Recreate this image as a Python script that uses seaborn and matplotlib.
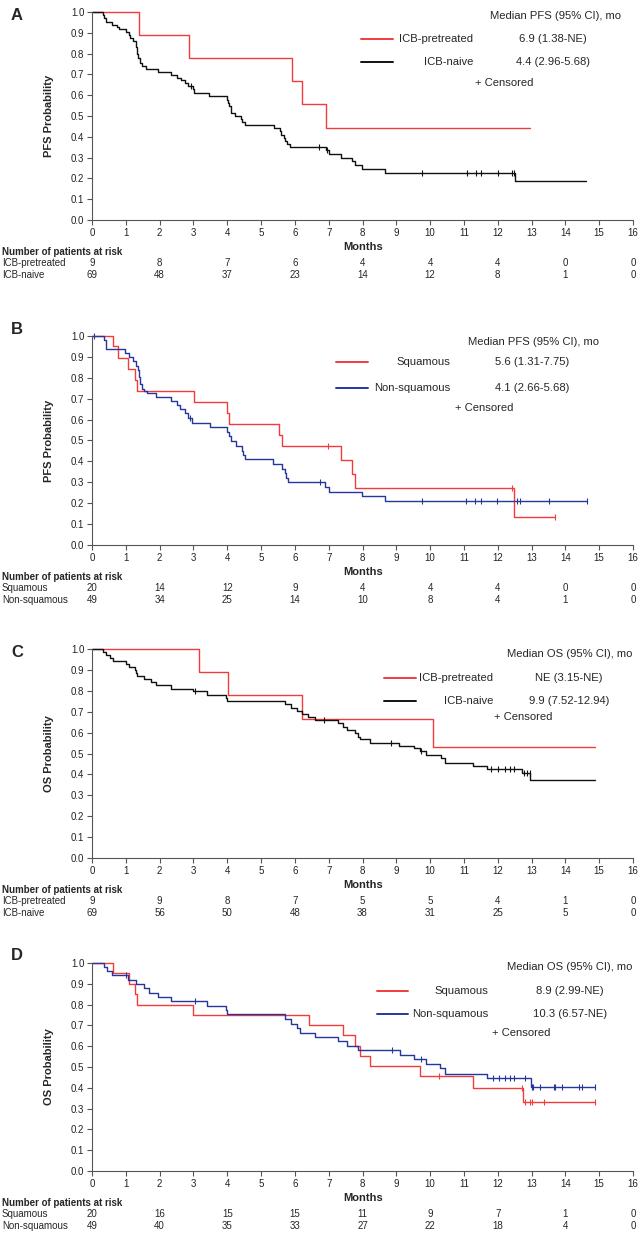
import matplotlib.pyplot as plt
import seaborn as sns
import numpy as np
import pandas as pd
from matplotlib.lines import Line2D

sns.set_style('ticks')
plt.rcParams['font.family'] = ['Liberation Sans', 'DejaVu Sans']

RED = '#f23c3c'
BLACK = '#111111'
BLUE = '#26379a'

# ---- data (months, survival after each step) ----
# A: PFS by prior ICB
a_pre_t = [0, 1.38, 2.87, 5.92, 6.22, 6.91]
a_pre_s = [1.0, 0.889, 0.778, 0.667, 0.556, 0.444]
a_pre_end = 12.94
a_pre_cens = []

a_nai_t = [0, 0.33, 0.36, 0.40, 0.60, 0.75, 0.80, 1.00, 1.08, 1.12, 1.22, 1.30, 1.32, 1.36,
           1.42, 1.48, 1.60, 1.95, 2.35, 2.50, 2.62, 2.75, 2.85, 2.98, 3.03, 3.45, 4.00, 4.03,
           4.06, 4.10, 4.12, 4.22, 4.40, 4.45, 4.52, 5.38, 5.55, 5.60, 5.68, 5.72, 5.78, 5.85,
           6.92, 7.02, 7.36, 7.68, 7.78, 7.98, 8.67, 12.51]
a_nai_s = [1.0, 0.986, 0.971, 0.952, 0.938, 0.928, 0.920, 0.905, 0.890, 0.875, 0.860, 0.830,
           0.800, 0.780, 0.755, 0.742, 0.728, 0.713, 0.699, 0.685, 0.671, 0.657, 0.643, 0.628,
           0.609, 0.594, 0.578, 0.562, 0.546, 0.530, 0.515, 0.500, 0.485, 0.470, 0.456, 0.441,
           0.426, 0.411, 0.396, 0.381, 0.366, 0.351, 0.336, 0.318, 0.298, 0.282, 0.265, 0.245,
           0.226, 0.189]
a_nai_end = 14.62
a_nai_cens = [2.92, 6.70, 6.96, 9.75, 11.08, 11.35, 11.51, 12.00, 12.43, 12.47]

# B: PFS by histology
b_sq_t = [0, 0.62, 0.77, 1.05, 1.28, 1.32, 3.01, 3.98, 4.05, 5.54, 5.62, 7.36, 7.68, 7.78, 12.49]
b_sq_s = [1.0, 0.95, 0.895, 0.842, 0.789, 0.737, 0.684, 0.632, 0.579, 0.526, 0.474, 0.407,
          0.339, 0.271, 0.135]
b_sq_end = 13.70
b_sq_cens = [6.99, 12.42, 13.70]

b_ns_t = [0, 0.35, 0.40, 0.97, 1.10, 1.20, 1.30, 1.35, 1.40, 1.43, 1.47, 1.55, 1.62, 1.90,
          2.35, 2.50, 2.60, 2.75, 2.85, 2.95, 3.48, 4.00, 4.05, 4.10, 4.25, 4.45, 4.47, 4.52,
          5.35, 5.62, 5.70, 5.75, 5.80, 6.89, 7.02, 7.98, 8.67]
b_ns_s = [1.0, 0.980, 0.937, 0.918, 0.898, 0.878, 0.857, 0.837, 0.805, 0.770, 0.748, 0.735,
          0.728, 0.710, 0.690, 0.670, 0.650, 0.630, 0.610, 0.585, 0.563, 0.540, 0.520, 0.497,
          0.474, 0.452, 0.432, 0.410, 0.387, 0.365, 0.343, 0.322, 0.302, 0.279, 0.255, 0.234,
          0.212]
b_ns_end = 14.64
b_ns_cens = [0.05, 2.90, 6.74, 9.75, 11.07, 11.33, 11.50, 11.99, 12.56, 12.66, 13.53, 14.64]

# C: OS by prior ICB
c_pre_t = [0, 3.16, 4.03, 6.22, 10.08]
c_pre_s = [1.0, 0.889, 0.778, 0.667, 0.533]
c_pre_end = 14.89
c_pre_cens = []

c_nai_t = [0, 0.33, 0.40, 0.52, 0.62, 1.00, 1.08, 1.28, 1.30, 1.33, 1.55, 1.75, 1.90, 2.35,
           3.00, 3.40, 3.95, 4.00, 5.70, 5.90, 6.05, 6.20, 6.40, 6.60, 7.29, 7.42, 7.53, 7.78,
           7.88, 7.93, 8.21, 9.09, 9.51, 9.70, 9.88, 10.32, 10.44, 11.26, 11.68, 12.71, 12.96]
c_nai_s = [1.0, 0.985, 0.971, 0.957, 0.942, 0.928, 0.913, 0.899, 0.884, 0.869, 0.855, 0.840,
           0.826, 0.810, 0.797, 0.781, 0.766, 0.751, 0.735, 0.720, 0.705, 0.690, 0.675, 0.660,
           0.644, 0.628, 0.612, 0.596, 0.581, 0.568, 0.552, 0.537, 0.525, 0.514, 0.493, 0.477,
           0.456, 0.440, 0.424, 0.408, 0.373]
c_nai_end = 14.89
c_nai_cens = [3.05, 6.85, 8.85, 9.73, 11.80, 12.02, 12.20, 12.35, 12.49, 12.78, 12.86, 12.94]

# D: OS by histology
d_sq_t = [0, 0.62, 1.08, 1.28, 1.33, 3.00, 6.41, 7.42, 7.78, 7.93, 8.21, 9.70, 11.26, 12.75]
d_sq_s = [1.0, 0.95, 0.90, 0.85, 0.80, 0.75, 0.70, 0.654, 0.600, 0.553, 0.505, 0.457, 0.397, 0.333]
d_sq_end = 14.88
d_sq_cens = [10.25, 12.71, 12.82, 12.94, 13.00, 13.36, 14.88]

d_ns_t = [0, 0.35, 0.45, 0.60, 1.05, 1.30, 1.55, 1.70, 1.95, 2.35, 3.40, 3.95, 4.00, 5.70,
          5.90, 6.05, 6.15, 6.60, 7.29, 7.53, 7.88, 9.11, 9.52, 9.88, 10.30, 10.44, 11.68, 12.98]
d_ns_s = [1.0, 0.980, 0.960, 0.940, 0.918, 0.898, 0.878, 0.857, 0.837, 0.816, 0.795, 0.775,
          0.753, 0.730, 0.708, 0.686, 0.664, 0.644, 0.625, 0.602, 0.582, 0.558, 0.537, 0.514,
          0.494, 0.466, 0.446, 0.405]
d_ns_end = 14.88
d_ns_cens = [1.00, 3.05, 8.86, 9.73, 11.85, 12.04, 12.22, 12.37, 12.49, 12.81, 13.02, 13.05,
             13.26, 13.65, 13.70, 13.90, 14.39, 14.49, 14.88]

# risk tables
risk_months = [0, 2, 4, 6, 8, 10, 12, 14, 16]
a_risk_pre = [9, 8, 7, 6, 4, 4, 4, 0, 0]
a_risk_nai = [69, 48, 37, 23, 14, 12, 8, 1, 0]
b_risk_sq = [20, 14, 12, 9, 4, 4, 4, 0, 0]
b_risk_ns = [49, 34, 25, 14, 10, 8, 4, 1, 0]
c_risk_pre = [9, 9, 8, 7, 5, 5, 4, 1, 0]
c_risk_nai = [69, 56, 50, 48, 38, 31, 25, 5, 0]
d_risk_sq = [20, 16, 15, 15, 11, 9, 7, 1, 0]
d_risk_ns = [49, 40, 35, 33, 27, 22, 18, 4, 0]

W, H = 641, 1239
fig = plt.figure(figsize=(W / 100, H / 100), dpi=100)


def fx(x):
    return x / W


def fy(y):
    return 1 - y / H


def draw_curve(ax, t, s, end, cens, color):
    df = pd.DataFrame({'month': list(t) + [end], 'prob': list(s) + [s[-1]]})
    sns.lineplot(data=df, x='month', y='prob', drawstyle='steps-post', color=color, lw=1.0,
                 estimator=None, sort=False, ax=ax, clip_on=False)
    if cens:
        idx = np.searchsorted(t, cens, side='right') - 1
        cy = [s[i] for i in idx]
        ax.scatter(cens, cy, marker='|', s=24, color=color, linewidths=0.8, clip_on=False, zorder=3)


def panel(letter, top, bottom, letter_y, ylab, curves, names, risks, leg):
    ax = fig.add_axes([fx(92), fy(bottom), fx(633) - fx(92), (bottom - top) / H])
    for (t, s, end, cens, color) in curves:
        draw_curve(ax, t, s, end, cens, color)
    ax.set_xlim(0, 16)
    ax.set_ylim(0, 1)
    ax.set_xticks(range(17))
    ax.set_yticks(np.arange(0, 1.01, 0.1))
    ax.set_yticklabels([f'{v:.1f}' for v in np.arange(0, 1.01, 0.1)])
    ax.set_xlabel('')
    ax.set_ylabel('')
    sns.despine(ax=ax)
    for sp in ax.spines.values():
        sp.set_color('#555555')
        sp.set_linewidth(0.8)
    ax.tick_params(labelsize=7, length=3.5, width=0.8, color='#555555', labelcolor='#222222', pad=2)

    fig.text(fx(11), fy(letter_y), letter, fontsize=12, fontweight='bold', ha='left', va='center')
    fig.text(fx(49), fy((top + bottom) / 2), ylab, fontsize=8, fontweight='bold', rotation=90,
             ha='center', va='center')
    fig.text(fx(363), fy(bottom + 27), 'Months', fontsize=8, fontweight='bold', ha='center', va='center')
    fig.text(fx(2), fy(bottom + 32), 'Number of patients at risk', fontsize=7, fontweight='bold',
             ha='left', va='center')
    for k, (nm, row) in enumerate(zip(names, risks)):
        yy = fy(bottom + 43 + 12 * k)
        fig.text(fx(2), yy, nm, fontsize=7, ha='left', va='center')
        for m, n in zip(risk_months, row):
            fig.text(fx(92 + m * 541 / 16), yy, str(n), fontsize=7, ha='center', va='center')

    # legend block
    title, tx, ty, lx0, lx1, rx, vx, cx, rows_y, cy = leg
    fig.text(fx(tx), fy(ty), title, fontsize=8.1, ha='center', va='center')
    for k, (nm, val) in enumerate(names_vals[letter]):
        yy = rows_y[k]
        fig.add_artist(Line2D([fx(lx0), fx(lx1)], [fy(yy), fy(yy)], color=curves[k][4], lw=1.4,
                              transform=fig.transFigure))
        fig.text(fx(rx), fy(yy), nm, fontsize=8.1, ha='right', va='center')
        fig.text(fx(vx), fy(yy), val, fontsize=8.1, ha='center', va='center')
    fig.text(fx(cx), fy(cy), '+ Censored', fontsize=8.1, ha='center', va='center')


names_vals = {
    'A': [('ICB-pretreated', '6.9 (1.38-NE)'), ('ICB-naive', '4.4 (2.96-5.68)')],
    'B': [('Squamous', '5.6 (1.31-7.75)'), ('Non-squamous', '4.1 (2.66-5.68)')],
    'C': [('ICB-pretreated', 'NE (3.15-NE)'), ('ICB-naive', '9.9 (7.52-12.94)')],
    'D': [('Squamous', '8.9 (2.99-NE)'), ('Non-squamous', '10.3 (6.57-NE)')],
}

panel('A', 12, 220, 15, 'PFS Probability',
      [(a_pre_t, a_pre_s, a_pre_end, a_pre_cens, RED), (a_nai_t, a_nai_s, a_nai_end, a_nai_cens, BLACK)],
      ['ICB-pretreated', 'ICB-naive'], [a_risk_pre, a_risk_nai],
      ('Median PFS (95% CI), mo', 555, 16, 361, 393, 473, 553, 504, [39, 62], 83))
panel('B', 336, 545, 330, 'PFS Probability',
      [(b_sq_t, b_sq_s, b_sq_end, b_sq_cens, RED), (b_ns_t, b_ns_s, b_ns_end, b_ns_cens, BLUE)],
      ['Squamous', 'Non-squamous'], [b_risk_sq, b_risk_ns],
      ('Median PFS (95% CI), mo', 533, 342, 336, 368, 450, 532, 484, [362, 388], 408))
panel('C', 649, 858, 653, 'OS Probability',
      [(c_pre_t, c_pre_s, c_pre_end, c_pre_cens, RED), (c_nai_t, c_nai_s, c_nai_end, c_nai_cens, BLACK)],
      ['ICB-pretreated', 'ICB-naive'], [c_risk_pre, c_risk_nai],
      ('Median OS (95% CI), mo', 570, 654, 384, 416, 493, 569, 523, [678, 701], 717))
panel('D', 963, 1171, 956, 'OS Probability',
      [(d_sq_t, d_sq_s, d_sq_end, d_sq_cens, RED), (d_ns_t, d_ns_s, d_ns_end, d_ns_cens, BLUE)],
      ['Squamous', 'Non-squamous'], [d_risk_sq, d_risk_ns],
      ('Median OS (95% CI), mo', 570, 967, 377, 408, 488, 570, 521, [991, 1014], 1033))

fig.savefig('out.png', dpi=100)
